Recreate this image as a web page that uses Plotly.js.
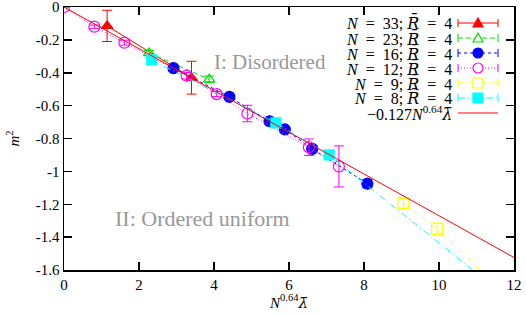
<!DOCTYPE html>
<html><head><meta charset="utf-8">
<script src="https://cdn.plot.ly/plotly-3.0.1.min.js"></script>
<style>html,body{margin:0;padding:0;background:#fff}#c{width:526px;height:316px}</style>
</head><body><div id="c"></div>
<script>
// ---- data ----
const x33 = [1.15, 3.40];
const y33 = [-0.115, -0.430];
const e33 = [0.095, 0.100];

const x23 = [2.27, 3.87];
const y23 = [-0.280, -0.440];
const e23 = [0.015, 0.020];

const x16 = [2.92, 4.41, 5.48, 5.89, 6.62, 8.09];
const y16 = [-0.372, -0.547, -0.695, -0.745, -0.863, -1.075];
const e16 = [0.015, 0.015, 0.015, 0.015, 0.020, 0.025];

const x12 = [0.00, 0.81, 1.61, 3.27, 4.07, 4.89, 6.53, 7.33];
const y12 = [0.000, -0.120, -0.217, -0.418, -0.530, -0.648, -0.853, -0.970];
const e12 = [0.000, 0.010, 0.015, 0.020, 0.015, 0.050, 0.050, 0.125];

const x9 = [9.05, 9.95, 11.50];
const y9 = [-1.195, -1.350, -1.690];
const e9 = [0.030, 0.035, 0.040];

const x8 = [2.34, 5.65, 7.07, 11.50];
const y8 = [-0.322, -0.705, -0.900, -1.710];
const e8 = [0.010, 0.010, 0.010, 0.010];

const fitCoef = -0.127;
const fitX = [0, 12];

const xTicks = [0, 2, 4, 6, 8, 10, 12];
const xTickText = ['0', '2', '4', '6', '8', '10', '12'];
const yTicks = [0, -0.2, -0.4, -0.6, -0.8, -1, -1.2, -1.4, -1.6];
const yTickText = ['0', '-0.2', '-0.4', '-0.6', '-0.8', '-1', '-1.2', '-1.4', '-1.6'];

const BAR = s => '<span style="font-family:DejaVu Serif">' + s + '\u0304</span>';
const legendNs = ['33', '23', '16', '12', '9', '8'];
const legendLabels = legendNs.map(n =>
  '<i>N</i>&nbsp;&nbsp;=&nbsp;&nbsp;' + n + ';&nbsp;<i>' + BAR('R') + '</i>&nbsp;&nbsp;=&nbsp;&nbsp;4');
legendLabels.push('−0.127<i>N</i><sup>0.64</sup><i>' + BAR('λ') + '</i>');

// ---- styles ----
const FONT = 'Liberation Serif, Times New Roman, serif';
const series = [
  {x: x33, y: y33, e: e33, color: '#ff0000', dash: 'solid', sym: 'triangle-up', size: 10},
  {x: x23, y: y23, e: e23, color: '#00e000', dash: '5px,3px', sym: 'triangle-up-open', size: 10},
  {x: x16, y: y16, e: e16, color: '#0000ff', dash: '3px,3px', sym: 'circle', size: 11},
  {x: x12, y: y12, e: e12, color: '#ff00ff', dash: '1px,2px', sym: 'circle-open', size: 11},
  {x: x9,  y: y9,  e: e9,  color: '#ffff00', dash: '5px,3px,1px,3px', sym: 'square-open', size: 11},
  {x: x8,  y: y8,  e: e8,  color: '#00ffff', dash: '7px,3px,1px,3px', sym: 'square', size: 10}
];

const traces = series.map(s => ({
  type: 'scatter', mode: 'lines+markers', x: s.x, y: s.y,
  line: {color: s.color, width: 1, dash: s.dash},
  marker: {symbol: s.sym, size: s.size, color: s.color, line: {color: s.color, width: 1.2}},
  error_y: {type: 'data', array: s.e, visible: true, color: s.color, thickness: 1, width: 5},
  showlegend: false, hoverinfo: 'none'
}));
traces.push({
  type: 'scatter', mode: 'lines', x: fitX, y: fitX.map(v => fitCoef * v),
  line: {color: '#ff0000', width: 1}, showlegend: false, hoverinfo: 'none'
});

// ---- custom legend (right-aligned text, sample on right) ----
const L = 64, R = 514, T = 7, B = 270;
const px = p => (p - L) / (R - L);
const py = p => (B - p) / (B - T);
const shapes = [];
const annotations = [];
const rowY = i => 23 + 15 * i;
const s0 = 458, s1 = 498, sm = 478;
for (let i = 0; i < 7; i++) {
  const yy = rowY(i);
  annotations.push({xref: 'paper', yref: 'paper', x: px(454), y: py(yy), xanchor: 'right', yanchor: 'middle',
    text: legendLabels[i], showarrow: false, font: {family: FONT, size: 16, color: '#000'}});
  const col = i < 6 ? series[i].color : '#ff0000';
  const dash = i < 6 ? series[i].dash : 'solid';
  shapes.push({type: 'line', xref: 'paper', yref: 'paper', x0: px(s0), x1: px(s1), y0: py(yy), y1: py(yy),
    line: {color: col, width: 1, dash: dash}});
  if (i < 6) {
    [s0, s1].forEach(xx => shapes.push({type: 'line', xref: 'paper', yref: 'paper', x0: px(xx), x1: px(xx),
      y0: py(yy - 4), y1: py(yy + 4), line: {color: col, width: 1}}));
    const s = series[i];
    const filled = !s.sym.endsWith('open');
    const h = 5;
    let path;
    if (s.sym.startsWith('triangle')) {
      path = `M ${px(sm)} ${py(yy - h)} L ${px(sm + h)} ${py(yy + h * 0.8)} L ${px(sm - h)} ${py(yy + h * 0.8)} Z`;
      shapes.push({type: 'path', xref: 'paper', yref: 'paper', path: path,
        fillcolor: filled ? col : '#fff', line: {color: col, width: 1.2}});
    } else if (s.sym.startsWith('circle')) {
      shapes.push({type: 'circle', xref: 'paper', yref: 'paper', x0: px(sm - h), x1: px(sm + h), y0: py(yy + h), y1: py(yy - h),
        fillcolor: filled ? col : '#fff', line: {color: col, width: 1.2}});
    } else {
      shapes.push({type: 'rect', xref: 'paper', yref: 'paper', x0: px(sm - h), x1: px(sm + h), y0: py(yy + h), y1: py(yy - h),
        fillcolor: filled ? col : '#fff', line: {color: col, width: 1.2}});
    }
  }
}
annotations.push({xref: 'paper', yref: 'paper', x: px(270), y: py(62), xanchor: 'center', yanchor: 'middle',
  text: 'I: Disordered', showarrow: false, font: {family: FONT, size: 21, color: '#999'}});
annotations.push({xref: 'paper', yref: 'paper', x: px(202), y: py(218), xanchor: 'center', yanchor: 'middle',
  text: 'II: Ordered uniform', showarrow: false, font: {family: FONT, size: 22, color: '#999'}});

const axisCommon = {
  showgrid: false, zeroline: false, showline: true, linecolor: '#000', linewidth: 1.5,
  mirror: 'ticks', ticks: 'inside', ticklen: 8, tickwidth: 1.5, tickcolor: '#000',
  tickfont: {family: FONT, size: 15, color: '#000'}, tickmode: 'array', ticklabeloverflow: 'allow'
};

const layout = {
  width: 526, height: 316,
  margin: {l: L, r: 526 - R, t: T, b: 316 - B},
  paper_bgcolor: '#fff', plot_bgcolor: '#fff',
  showlegend: false,
  xaxis: Object.assign({}, axisCommon, {range: [0, 12], tickvals: xTicks, ticktext: xTickText,
    title: {text: '<i>N</i><sup>0.64</sup><i>' + BAR('λ') + '</i>', font: {family: FONT, size: 15, color: '#000'}, standoff: 2}}),
  yaxis: Object.assign({}, axisCommon, {range: [-1.6, 0], tickvals: yTicks, ticktext: yTickText,
    title: {text: '<i>m</i><sup>2</sup>', font: {family: FONT, size: 15, color: '#000'}, standoff: 12}}),
  shapes: shapes, annotations: annotations
};

Plotly.newPlot('c', traces, layout, {staticPlot: true, displayModeBar: false});
</script></body></html>
